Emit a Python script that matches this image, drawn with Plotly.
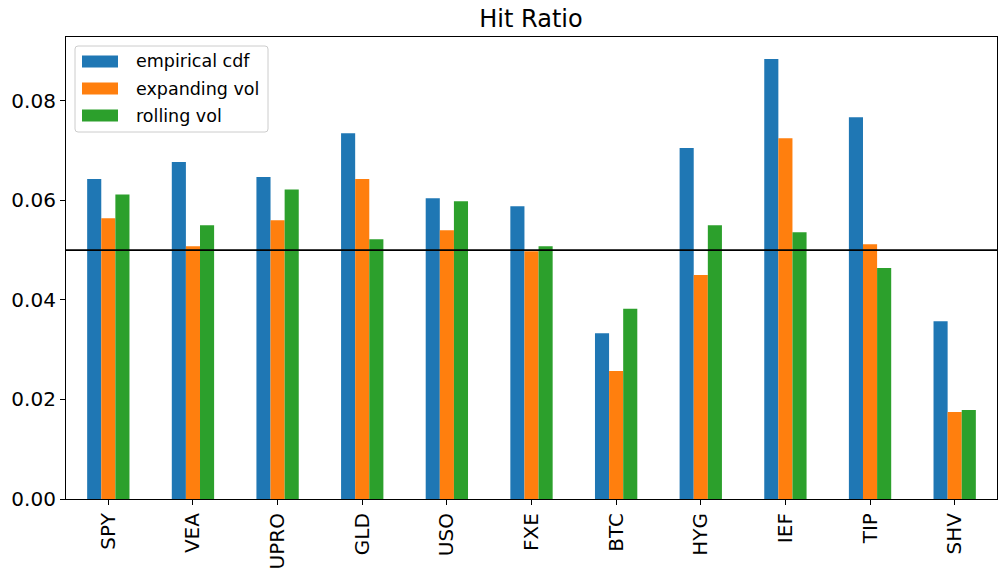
import plotly.graph_objects as go

tickers = ["SPY", "VEA", "UPRO", "GLD", "USO", "FXE", "BTC", "HYG", "IEF", "TIP", "SHV"]
empirical_cdf = [0.0643, 0.0677, 0.0647, 0.0735, 0.0604, 0.0588, 0.0333, 0.0705, 0.0884, 0.0767, 0.0357]
expanding_vol = [0.0564, 0.0508, 0.0560, 0.0643, 0.0540, 0.0498, 0.0257, 0.0450, 0.0725, 0.0512, 0.0175]
rolling_vol = [0.0612, 0.0550, 0.0622, 0.0522, 0.0598, 0.0508, 0.0382, 0.0550, 0.0536, 0.0464, 0.0179]
series_names = ["empirical cdf", "expanding vol", "rolling vol"]
series_values = [empirical_cdf, expanding_vol, rolling_vol]
colors = ["#1f77b4", "#ff7f0e", "#2ca02c"]
y_ticks = [0.00, 0.02, 0.04, 0.06, 0.08]
threshold = 0.05

W, H = 1006, 577
L, R, T, B = 66, 9, 37, 78
pw, ph = W - L - R, H - T - B

def px_x(px):
    return (px - L) / pw

def px_y(py):
    return (H - B - py) / ph

fig = go.Figure()
for name, vals, c in zip(series_names, series_values, colors):
    fig.add_trace(go.Bar(x=list(range(len(tickers))), y=vals, name=name,
                         marker=dict(color=c, line=dict(width=0)), showlegend=False))

ymax = max(max(v) for v in series_values) * 1.05

shapes = [
    dict(type="line", xref="paper", yref="y", x0=0, x1=1, y0=threshold, y1=threshold,
         line=dict(color="black", width=1.6), layer="above"),
]

# custom legend (matplotlib style)
x0, x1 = px_x(75), px_x(268)
y0, y1 = px_y(132), px_y(46)
rx, ry = 3 / pw, 3 / ph
path = (f"M {x0+rx},{y0} L {x1-rx},{y0} Q {x1},{y0} {x1},{y0+ry} "
        f"L {x1},{y1-ry} Q {x1},{y1} {x1-rx},{y1} L {x0+rx},{y1} Q {x0},{y1} {x0},{y1-ry} "
        f"L {x0},{y0+ry} Q {x0},{y0} {x0+rx},{y0} Z")
shapes.append(dict(type="path", xref="paper", yref="paper", path=path,
                   fillcolor="rgba(255,255,255,0.8)", line=dict(color="#cccccc", width=1),
                   layer="above"))
annotations = []
rows = [61.5, 88.5, 115.5]
for name, c, cy in zip(series_names, colors, rows):
    shapes.append(dict(type="rect", xref="paper", yref="paper",
                       x0=px_x(82), x1=px_x(118), y0=px_y(cy + 6), y1=px_y(cy - 6),
                       fillcolor=c, line=dict(width=0), layer="above"))
    annotations.append(dict(xref="paper", yref="paper", x=px_x(134), y=px_y(cy),
                            xanchor="left", yanchor="middle", showarrow=False, text=name,
                            font=dict(size=17.5, color="#000000", family="DejaVu Sans")))

fig.update_layout(
    width=W, height=H,
    margin=dict(l=L, r=R, t=T, b=B, pad=0),
    paper_bgcolor="white", plot_bgcolor="white",
    barmode="group", bargap=0.5, bargroupgap=0,
    font=dict(family="DejaVu Sans", color="black"),
    title=dict(text="Hit Ratio", x=(531) / W, xanchor="center",
               y=1 - 19 / H, yanchor="middle", font=dict(size=24, color="black")),
    shapes=shapes, annotations=annotations,
)
fig.update_xaxes(range=[-0.5, len(tickers) - 0.5], tickmode="array",
                 tickvals=list(range(len(tickers))), ticktext=tickers, tickangle=-90,
                 showline=True, linecolor="black", linewidth=1.2, mirror=True,
                 ticks="outside", ticklen=5, tickcolor="black", showgrid=False,
                 zeroline=False, tickfont=dict(size=20, color="black"))
fig.update_yaxes(range=[0, ymax], tickmode="array", tickvals=y_ticks,
                 ticktext=[f"{v:.2f}" for v in y_ticks],
                 showline=True, linecolor="black", linewidth=1.2, mirror=True,
                 ticks="outside", ticklen=5, tickcolor="black", showgrid=False,
                 zeroline=False, tickfont=dict(size=20, color="black"))

fig.write_html("out.html", config={"displayModeBar": False},
               post_script="document.body.style.margin='0';document.body.style.overflow='hidden';")
